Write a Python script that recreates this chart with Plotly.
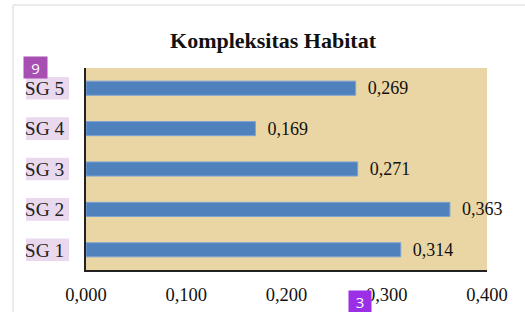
import plotly.graph_objects as go

categories = ["SG 1", "SG 2", "SG 3", "SG 4", "SG 5"]
values = [0.314, 0.363, 0.271, 0.169, 0.269]
x_ticks = [0.0, 0.1, 0.2, 0.3, 0.4]

W, H = 525, 312
L, R, T, B = 86, 38, 68, 42
PW, PH = W - L - R, H - T - B

fig = go.Figure()
fig.add_trace(go.Bar(
    y=categories, x=values, orientation="h",
    marker=dict(color="#4F81BD", line=dict(color="#7FA3D2", width=1)),
    width=0.35,
    texttemplate="  %{x:.3f}", textposition="outside", cliponaxis=False,
    constraintext="none",
    textfont=dict(family="Liberation Serif", size=18, color="#111"),
    hoverinfo="skip",
))

shapes = []
# outer light frame
shapes.append(dict(type="line", xref="paper", yref="paper",
                   x0=(13 - L) / PW, x1=1.2, y0=1 + (T - 5) / PH, y1=1 + (T - 5) / PH,
                   line=dict(color="#e4e4e4", width=1.5)))
shapes.append(dict(type="line", xref="paper", yref="paper",
                   x0=(13 - L) / PW, x1=(13 - L) / PW, y0=-0.3, y1=1 + (T - 5) / PH,
                   line=dict(color="#e4e4e4", width=1.5)))
# label highlights
for i, c in enumerate(categories):
    shapes.append(dict(type="rect", xref="paper", yref="y",
                       x0=(26 - L) / PW, x1=(69 - L) / PW,
                       y0=i - 0.28, y1=i + 0.28,
                       fillcolor="#ead9ee", line=dict(width=0), layer="below"))

fig.update_layout(
    width=W, height=H,
    margin=dict(l=L, r=R, t=T, b=B, autoexpand=False),
    paper_bgcolor="white", plot_bgcolor="#EAD6A4",
    separators=",.",
    showlegend=False,
    title=dict(text="<b>Kompleksitas Habitat</b>", x=273 / W, xanchor="center",
               y=1 - 40 / H, yanchor="middle", automargin=False,
               font=dict(family="Liberation Serif", size=22, color="#111")),
    xaxis=dict(range=[0, 0.4], tickvals=x_ticks, tickformat=".3f", automargin=False,
               showgrid=False, zeroline=False, showline=True, linecolor="#222", linewidth=1.5,
               ticks="outside", ticklen=7, tickcolor="rgba(0,0,0,0)",
               tickfont=dict(family="Liberation Serif", size=18.5, color="#111")),
    yaxis=dict(categoryorder="array", categoryarray=categories, range=[-0.5, 4.5], automargin=False,
               showgrid=False, zeroline=False, showline=True, linecolor="#222", linewidth=1.5,
               ticks="outside", ticklen=16, tickcolor="rgba(0,0,0,0)",
               tickfont=dict(family="Liberation Serif", size=19.5, color="#222")),
    shapes=shapes,
    annotations=[
        dict(text="9", xref="paper", yref="paper", x=(35 - L) / PW, y=1 + (T - 67) / PH,
             xanchor="center", yanchor="middle",
             showarrow=False, bgcolor="#a84fb4", font=dict(family="Open Sans", size=15, color="white"),
             borderpad=2, width=19, height=17),
        dict(text="3", xref="paper", yref="paper", x=(360 - L) / PW, y=-(301 - (H - B)) / PH,
             xanchor="center", yanchor="middle",
             showarrow=False, bgcolor="#9b2fe6", font=dict(family="Open Sans", size=15, color="white"),
             borderpad=2, width=18, height=17),
    ],
)

fig.write_html("out.html", config={"displayModeBar": False},
               post_script="document.body.style.margin='0';document.body.style.overflow='hidden';")
